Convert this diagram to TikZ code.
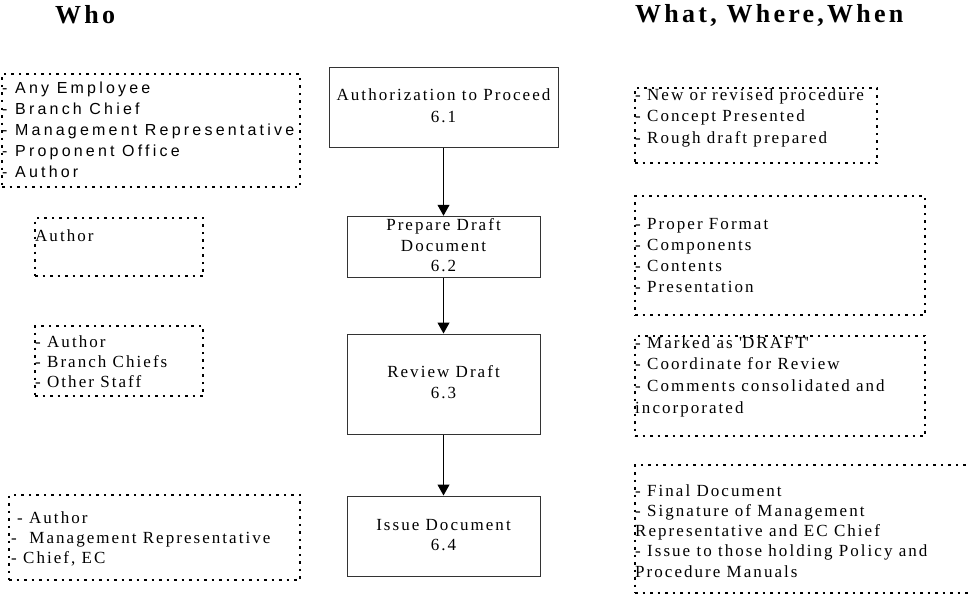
\documentclass[tikz,border=0pt]{standalone}
\usepackage{fontspec}
\setmainfont{Liberation Serif}[LetterSpace=12]
\newfontfamily\whosans{Liberation Sans}[LetterSpace=20]
\newfontfamily\headserif{Liberation Serif}[LetterSpace=12.5]
\usetikzlibrary{arrows.meta}

% left-aligned block of lines whose baseline is the first line
\newcommand{\linesblock}[1]{\begin{tabular}[t]{@{}l@{}}#1\end{tabular}}
\newcommand{\centreblock}[1]{\begin{tabular}{@{}c@{}}#1\end{tabular}}

\tikzset{
  stepbox/.style={draw=black!80, line width=1pt, rectangle, inner sep=0pt,
    font=\fontsize{17}{21}\selectfont},
  notebox/.style={draw=black, line width=1.6pt, dash pattern=on 2.5pt off 5pt,
    rectangle, inner sep=0pt},
  notetext/.style={inner sep=0pt, anchor=base west},
  heading/.style={inner sep=0pt, anchor=base west,
    font=\headserif\bfseries\fontsize{26}{30}\selectfont},
  flow/.style={draw=black, line width=1.1pt, -{Triangle[length=11pt,width=12pt]}},
}

\begin{document}
\begin{tikzpicture}[x=1pt, y=-1pt]
\useasboundingbox (0,0) rectangle (971,602);

% column headings
\node[heading] (who) at (55,24) {Who};
\node[heading] (what) at (635,23) {What, Where,When};

% process steps
\node[stepbox, minimum width=229pt, minimum height=80pt,
  font=\fontsize{17}{22}\selectfont] (s1) at (443.5,107)
  {\centreblock{Authorization to Proceed\\6.1}};
\node[stepbox, minimum width=193pt, minimum height=60pt,
  font=\fontsize{17}{20.5}\selectfont] (s2) at (443.5,247)
  {\centreblock{Prepare Draft\\Document\\6.2}};
\node[stepbox, minimum width=193pt, minimum height=100pt] (s3) at (443.5,384)
  {\centreblock{Review Draft\\6.3}};
\node[stepbox, minimum width=193pt, minimum height=80pt,
  font=\fontsize{17}{20}\selectfont] (s4) at (443.5,536)
  {\centreblock{Issue Document\\6.4}};

\draw[flow] (s1) -- (s2);
\draw[flow] (s2) -- (s3);
\draw[flow] (s3) -- (s4);

% who: dotted frames
\node[notebox, minimum width=298pt, minimum height=113pt] (whoA) at (151,130.5) {};
\node[notebox, minimum width=168pt, minimum height=58pt] (whoB) at (119,247) {};
\node[notebox, minimum width=168pt, minimum height=70pt] (whoC) at (119,361) {};
\node[notebox, minimum width=291pt, minimum height=85pt] (whoD) at (154.5,537.5) {};

% who: texts
\node[notetext, font=\whosans\fontsize{16}{21}\selectfont] (whoAt) at (2,93)
  {\linesblock{- Any Employee\\- Branch Chief\\- Management Representative\\- Proponent Office\\- Author}};
\node[notetext, font=\fontsize{17}{20}\selectfont] (whoBt) at (35,241) {Author};
\node[notetext, font=\fontsize{17}{20}\selectfont] (whoCt) at (35,347)
  {\linesblock{- Author\\- Branch Chiefs\\- Other Staff}};
\node[notetext, font=\fontsize{17}{20}\selectfont] (whoDt) at (11,523)
  {\linesblock{\hspace{6pt}- Author\\- \ Management Representative\\- Chief, EC}};

% what, where, when: dotted frames
\node[notebox, minimum width=242pt, minimum height=75pt] (wA) at (756,125.5) {};
\node[notebox, minimum width=290pt, minimum height=119pt] (wB) at (780,255.5) {};
\node[notebox, minimum width=290pt, minimum height=100pt] (wC) at (780,386) {};
\node[notebox, minimum width=345pt, minimum height=128pt] (wD) at (807.5,529) {};

% what, where, when: texts
\node[notetext, font=\fontsize{17}{21.5}\selectfont] (wAt) at (635,100)
  {\linesblock{- New or revised procedure\\- Concept Presented\\- Rough draft prepared}};
\node[notetext, font=\fontsize{17}{21.3}\selectfont] (wBt) at (635,229)
  {\linesblock{- Proper Format\\- Components\\- Contents\\- Presentation}};
\node[notetext, font=\fontsize{17}{21.7}\selectfont] (wCt) at (635,348)
  {\linesblock{- Marked as \textquotesingle DRAFT\textquotesingle\\- Coordinate for Review\\- Comments consolidated and\\incorporated}};
\node[notetext, font=\fontsize{17}{20.25}\selectfont] (wDt) at (635,496)
  {\linesblock{- Final Document\\- Signature of Management\\Representative and EC Chief\\- Issue to those holding Policy and\\Procedure Manuals}};
\end{tikzpicture}
\end{document}
